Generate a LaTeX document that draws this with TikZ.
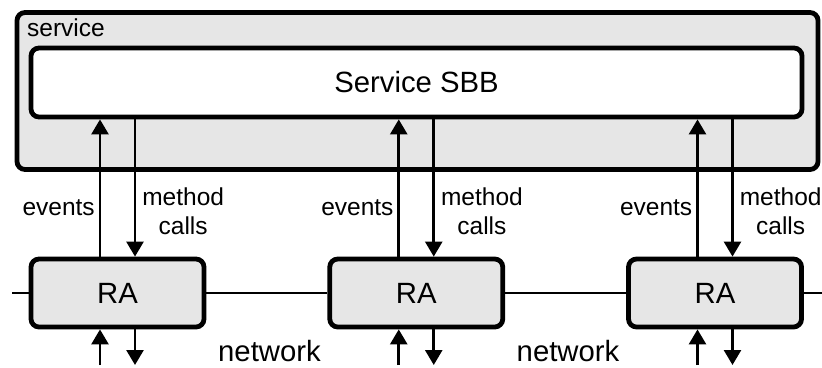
\documentclass[tikz,border=0pt]{standalone}
\usepackage{fontspec}
\setmainfont{Liberation Sans}
\usetikzlibrary{arrows.meta}
\definecolor{boxgray}{RGB}{230,230,230}

\begin{document}
\begin{tikzpicture}[x=1pt, y=-1pt,
    box/.style={draw, line width=4.8pt, rounded corners=8pt, inner sep=0pt},
    arr/.style={line width=2.6pt, -{Triangle[width=17pt, length=15pt]}},
    wire/.style={line width=2.6pt},
    big/.style={font=\fontsize{29.3}{35}\selectfont},
    small/.style={font=\fontsize{24.5}{29}\selectfont}]
    \useasboundingbox (0,0) rectangle (822,367);

    % service container with the SBB inside
    \node[box, fill=boxgray, minimum width=801pt, minimum height=157pt] (service) at (417.5,91) {};
    \node[small, anchor=west, inner sep=0pt] (servicelbl) at (27,28) {service};
    \node[box, fill=white, big, minimum width=771pt, minimum height=69pt] (sbb) at (416.5,82.5) {Service SBB};

    % resource adaptors
    \foreach \i/\x in {1/117.5, 2/416.25, 3/715} {
      \node[box, fill=boxgray, big, minimum width=173pt, minimum height=68pt] (ra\i) at (\x,293) {RA};
      \coordinate (in\i) at (\x-17.5,365);
      \coordinate (out\i) at (\x+17.5,365);
      \draw[arr] ([xshift=-17.5pt]ra\i.north) -- node[small, pos=0.355, left, inner sep=4pt] (ev\i) {events}
        ([xshift=-17.5pt]ra\i.north |- sbb.south);
      \draw[arr] ([xshift=17.5pt]ra\i.north |- sbb.south) -- node[small, pos=0.67, right, inner sep=6pt, align=center] (mc\i) {method\\calls}
        ([xshift=17.5pt]ra\i.north);
      \draw[arr] (in\i) -- ([xshift=-17.5pt]ra\i.south);
      \draw[arr] ([xshift=17.5pt]ra\i.south) -- (out\i);
    }

    % network line
    \coordinate (netl) at (12,293);
    \coordinate (netr) at (822,293);
    \draw[wire] (netl) -- (ra1.west);
    \draw[wire] (ra1.east) -- (ra2.west);
    \draw[wire] (ra2.east) -- (ra3.west);
    \draw[wire] (ra3.east) -- (netr);
    \node[big, inner sep=0pt] (net1) at (269.5,351.5) {network};
    \node[big, inner sep=0pt] (net2) at (568,351.5) {network};
\end{tikzpicture}
\end{document}
